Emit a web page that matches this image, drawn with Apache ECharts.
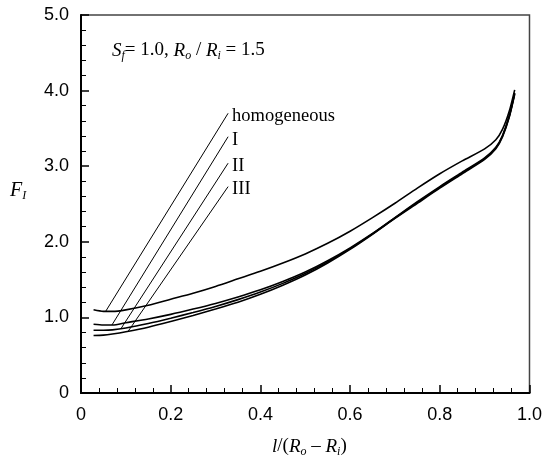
<!DOCTYPE html>
<html>
<head>
    <meta charset="UTF-8">
    <title>F_I chart</title>
    <style>
        body,
        html {
            width: 100%;
            height: 100%;
            margin: 0;
            padding: 0;
            background: #fff;
        }
        #myChart {
            width: 545px;
            height: 461px;
        }
    </style>
    <script src="https://cdn.jsdelivr.net/npm/echarts@6/dist/echarts.min.js"></script>
</head>
<body>
    <div id="myChart"></div>
    <script>

        // 数据
        let xVals   = [0.028, 0.05, 0.07, 0.1, 0.15, 0.2, 0.25, 0.3, 0.35, 0.4, 0.45, 0.5, 0.55, 0.6, 0.65, 0.7, 0.75, 0.8, 0.85, 0.9, 0.925, 0.94, 0.955, 0.967];
        let homVals = [1.10, 1.08, 1.08, 1.10, 1.16, 1.24, 1.32, 1.41, 1.51, 1.61, 1.72, 1.84, 1.98, 2.14, 2.32, 2.51, 2.71, 2.90, 3.07, 3.23, 3.35, 3.49, 3.73, 4.01];
        let iVals   = [0.91, 0.90, 0.90, 0.93, 0.98, 1.04, 1.11, 1.185, 1.27, 1.365, 1.475, 1.60, 1.75, 1.92, 2.11, 2.32, 2.53, 2.73, 2.92, 3.11, 3.25, 3.41, 3.67, 3.97];
        let iiVals  = [0.83, 0.83, 0.835, 0.86, 0.92, 0.99, 1.065, 1.145, 1.235, 1.335, 1.45, 1.58, 1.735, 1.91, 2.105, 2.315, 2.52, 2.72, 2.91, 3.10, 3.24, 3.40, 3.66, 3.96];
        let iiiVals = [0.76, 0.765, 0.78, 0.81, 0.87, 0.945, 1.025, 1.11, 1.20, 1.305, 1.425, 1.56, 1.72, 1.90, 2.10, 2.31, 2.51, 2.71, 2.90, 3.09, 3.23, 3.39, 3.65, 3.95];

        // 引线（曲线上的点 -> 标签处）
        let leaderNames = ['homogeneous', 'I', 'II', 'III'];
        let leaderFrom  = [[0.055, 1.08], [0.069, 0.90], [0.089, 0.85], [0.105, 0.815]];
        let leaderTo    = [[0.328, 3.70], [0.328, 3.39], [0.328, 3.04], [0.328, 2.73]];

        let serif = "'Liberation Serif', 'Times New Roman', serif";
        let sans = "'Liberation Sans', Arial, sans-serif";

        let myEcharts = echarts.init(document.querySelector('#myChart'));

        function curve(vals) {
            return {
                type: 'line',
                data: xVals.map((x, i) => [x, vals[i]]),
                showSymbol: false,
                smooth: 0.25,
                lineStyle: { color: '#000', width: 1.6 },
                animation: false
            };
        }

        let series = [curve(homVals), curve(iVals), curve(iiVals), curve(iiiVals)];

        leaderNames.forEach((name, i) => {
            series.push({
                type: 'line',
                data: [leaderFrom[i], leaderTo[i]],
                showSymbol: false,
                lineStyle: { color: '#000', width: 1 },
                animation: false,
                endLabel: {
                    show: true,
                    formatter: name,
                    distance: 4,
                    offset: [0, 3],
                    color: '#000',
                    fontFamily: serif,
                    fontSize: 18.5
                }
            });
        });

        let labelFmt = v => (v === 0 ? '0' : v.toFixed(1));

        let option = {
            backgroundColor: '#fff',
            grid: {
                left: 81, right: 12, top: 15, bottom: 68,
                show: true, borderColor: '#444', borderWidth: 1.5
            },
            xAxis: {
                type: 'value', min: 0, max: 1, interval: 0.2,
                axisLine: { show: true, onZero: false, lineStyle: { color: '#000', width: 2 } },
                axisTick: { inside: true, length: 8, lineStyle: { color: '#000', width: 1.5 } },
                minorTick: { show: true, splitNumber: 5, length: 5, lineStyle: { color: '#000', width: 1 } },
                splitLine: { show: false },
                axisLabel: { formatter: labelFmt, color: '#000', fontFamily: sans, fontSize: 18, margin: 13 }
            },
            yAxis: {
                type: 'value', min: 0, max: 5, interval: 1,
                axisLine: { show: true, onZero: false, lineStyle: { color: '#000', width: 2 } },
                axisTick: { inside: true, length: 8, lineStyle: { color: '#000', width: 1.5 } },
                minorTick: { show: true, splitNumber: 5, length: 5, lineStyle: { color: '#000', width: 1 } },
                splitLine: { show: false },
                axisLabel: { formatter: labelFmt, color: '#000', fontFamily: sans, fontSize: 18, margin: 12 }
            },
            graphic: [
                {
                    type: 'text', left: 112, top: 41, silent: true,
                    style: {
                        text: '{it|S}{sub|f}{n|= 1.0, }{it|R}{sub|o}{n| / }{it|R}{sub|i}{n| = 1.5}',
                        rich: {
                            it: { fontFamily: serif, fontStyle: 'italic', fontSize: 19, lineHeight: 22, fill: '#000' },
                            n: { fontFamily: serif, fontSize: 19, lineHeight: 22, fill: '#000' },
                            sub: { fontFamily: serif, fontStyle: 'italic', fontSize: 12, lineHeight: 12, verticalAlign: 'bottom', fill: '#000' }
                        }
                    }
                },
                {
                    type: 'text', left: 10, top: 181, silent: true,
                    style: {
                        text: '{it|F}{sub|I}',
                        rich: {
                            it: { fontFamily: serif, fontStyle: 'italic', fontSize: 20, lineHeight: 22, fill: '#000' },
                            sub: { fontFamily: serif, fontStyle: 'italic', fontSize: 12, lineHeight: 12, verticalAlign: 'bottom', fill: '#000' }
                        }
                    }
                },
                {
                    type: 'text', left: 272, top: 437, silent: true,
                    style: {
                        text: '{it|l}{n|/(}{it|R}{sub|o}{n| \u2013 }{it|R}{sub|i}{n|)}',
                        rich: {
                            it: { fontFamily: serif, fontStyle: 'italic', fontSize: 19, lineHeight: 22, fill: '#000' },
                            n: { fontFamily: serif, fontSize: 19, lineHeight: 22, fill: '#000' },
                            sub: { fontFamily: serif, fontStyle: 'italic', fontSize: 12, lineHeight: 12, verticalAlign: 'bottom', fill: '#000' }
                        }
                    }
                }
            ],
            series: series
        };

        myEcharts.setOption(option, true);

    </script>
</body>
</html>
